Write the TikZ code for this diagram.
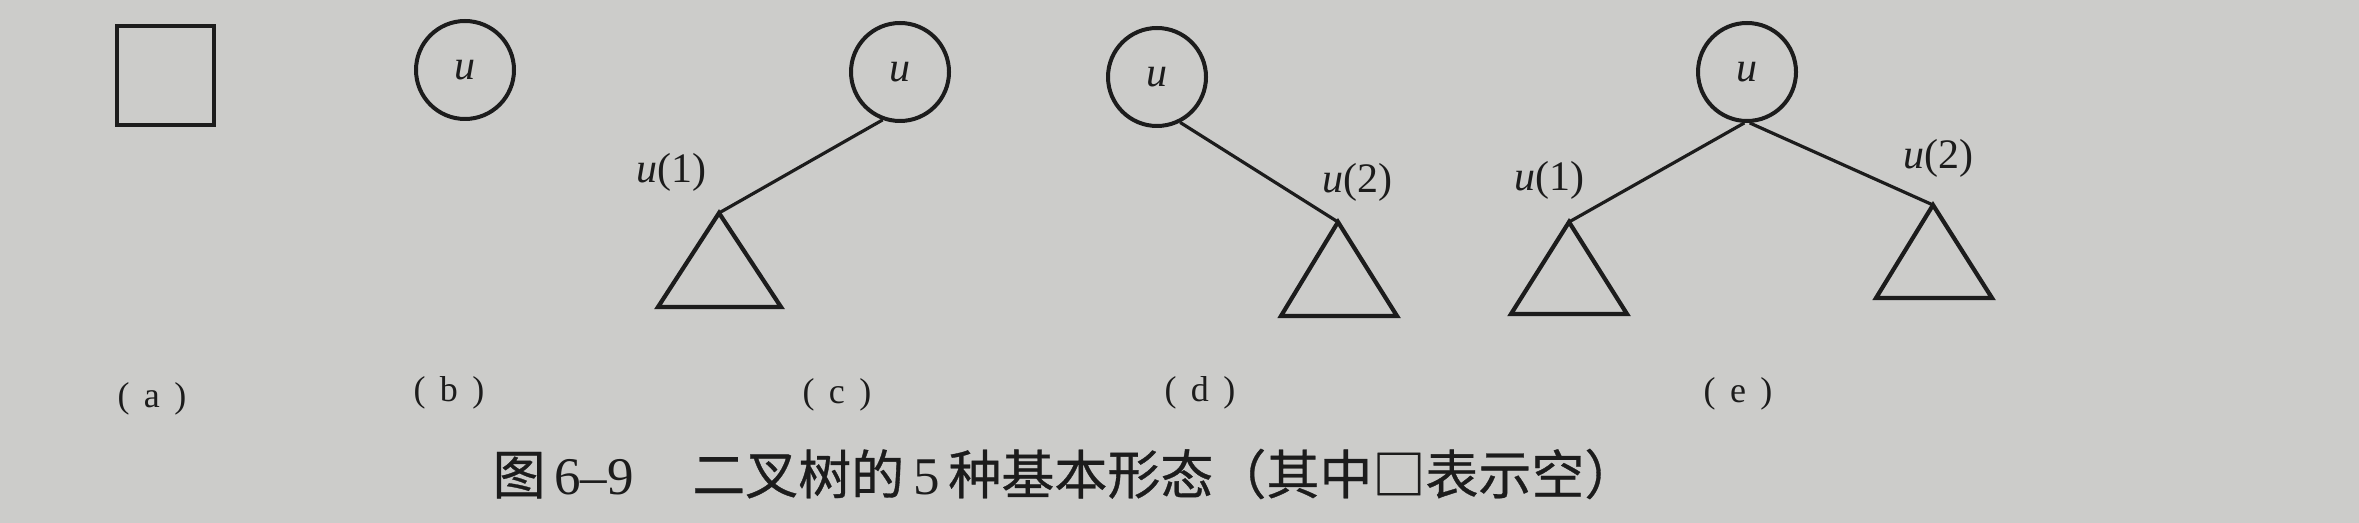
\documentclass[tikz,border=0pt]{standalone}
\usepackage{fontspec}
\setmainfont{Liberation Serif}
\newfontfamily\cjk[FakeBold=0.6]{Noto Sans CJK SC}
\definecolor{paper}{RGB}{204,204,202}
\definecolor{ink}{RGB}{28,28,28}
\begin{document}
\begin{tikzpicture}[x=0.5pt,y=-0.5pt,
  nodecirc/.style={circle,draw=ink,line width=2pt,minimum size=49pt,inner sep=0pt,
    font=\fontsize{21pt}{24pt}\selectfont\itshape,text=ink},
  emptybox/.style={rectangle,draw=ink,line width=2pt,minimum width=48.5pt,minimum height=49.5pt,inner sep=0pt},
  edge/.style={draw=ink,line width=1.6pt},
  subtree/.style={draw=ink,line width=2.1pt,line join=miter},
  lbl/.style={text=ink,font=\fontsize{21pt}{24pt}\selectfont,inner sep=0pt},
  sublbl/.style={text=ink,font=\fontsize{18pt}{22pt}\selectfont,inner sep=0pt},
  captext/.style={text=ink,font=\fontsize{26.5pt}{30pt}\selectfont,inner sep=0pt}]
\fill[paper] (0,0) rectangle (2359,523);
\useasboundingbox (0,0) rectangle (2359,523);
% (a)
\node[emptybox] (sq) at (165,76) {};
% (b)
\node[nodecirc] (bu) at (465,70) {u};
% (c)
\node[nodecirc] (cu) at (900,72) {u};
\coordinate (ct) at (719,213);
\draw[edge] (cu.-110) -- (ct);
\draw[subtree] (ct) -- (658,307) -- (781,307) -- cycle;
\node[lbl] (cl) at (671,172) {\textit{u}(1)};
% (d)
\node[nodecirc] (du) at (1157,77) {u};
\coordinate (dt) at (1338,222);
\draw[edge] (du.-63) -- (dt);
\draw[subtree] (dt) -- (1281,316) -- (1397,316) -- cycle;
\node[lbl] (dl) at (1357,182) {\textit{u}(2)};
% (e)
\node[nodecirc] (eu) at (1747,72) {u};
\coordinate (elt) at (1569,222);
\coordinate (ert) at (1933,205);
\draw[edge] (eu.-93) -- (elt);
\draw[edge] (eu.-87) -- (ert);
\draw[subtree] (elt) -- (1511,314) -- (1627,314) -- cycle;
\draw[subtree] (ert) -- (1876,298) -- (1992,298) -- cycle;
\node[lbl] (el1) at (1549,180) {\textit{u}(1)};
\node[lbl] (el2) at (1938,158) {\textit{u}(2)};
% sub-captions
\node[sublbl] (la) at (152,399) {(\hspace{0.4em}a\hspace{0.4em})};
\node[sublbl] (lb) at (449,393) {(\hspace{0.4em}b\hspace{0.4em})};
\node[sublbl] (lc) at (837,395) {(\hspace{0.4em}c\hspace{0.4em})};
\node[sublbl] (ld) at (1200,393) {(\hspace{0.4em}d\hspace{0.4em})};
\node[sublbl] (le) at (1738,394) {(\hspace{0.4em}e\hspace{0.4em})};
% caption
\node[captext] (caption) at (1065,474) {{\cjk 图}\,6–9\hspace{1.1em}{\cjk 二叉树的}\,5\,{\cjk 种基本形态（其中□表示空）}};
\end{tikzpicture}
\end{document}
